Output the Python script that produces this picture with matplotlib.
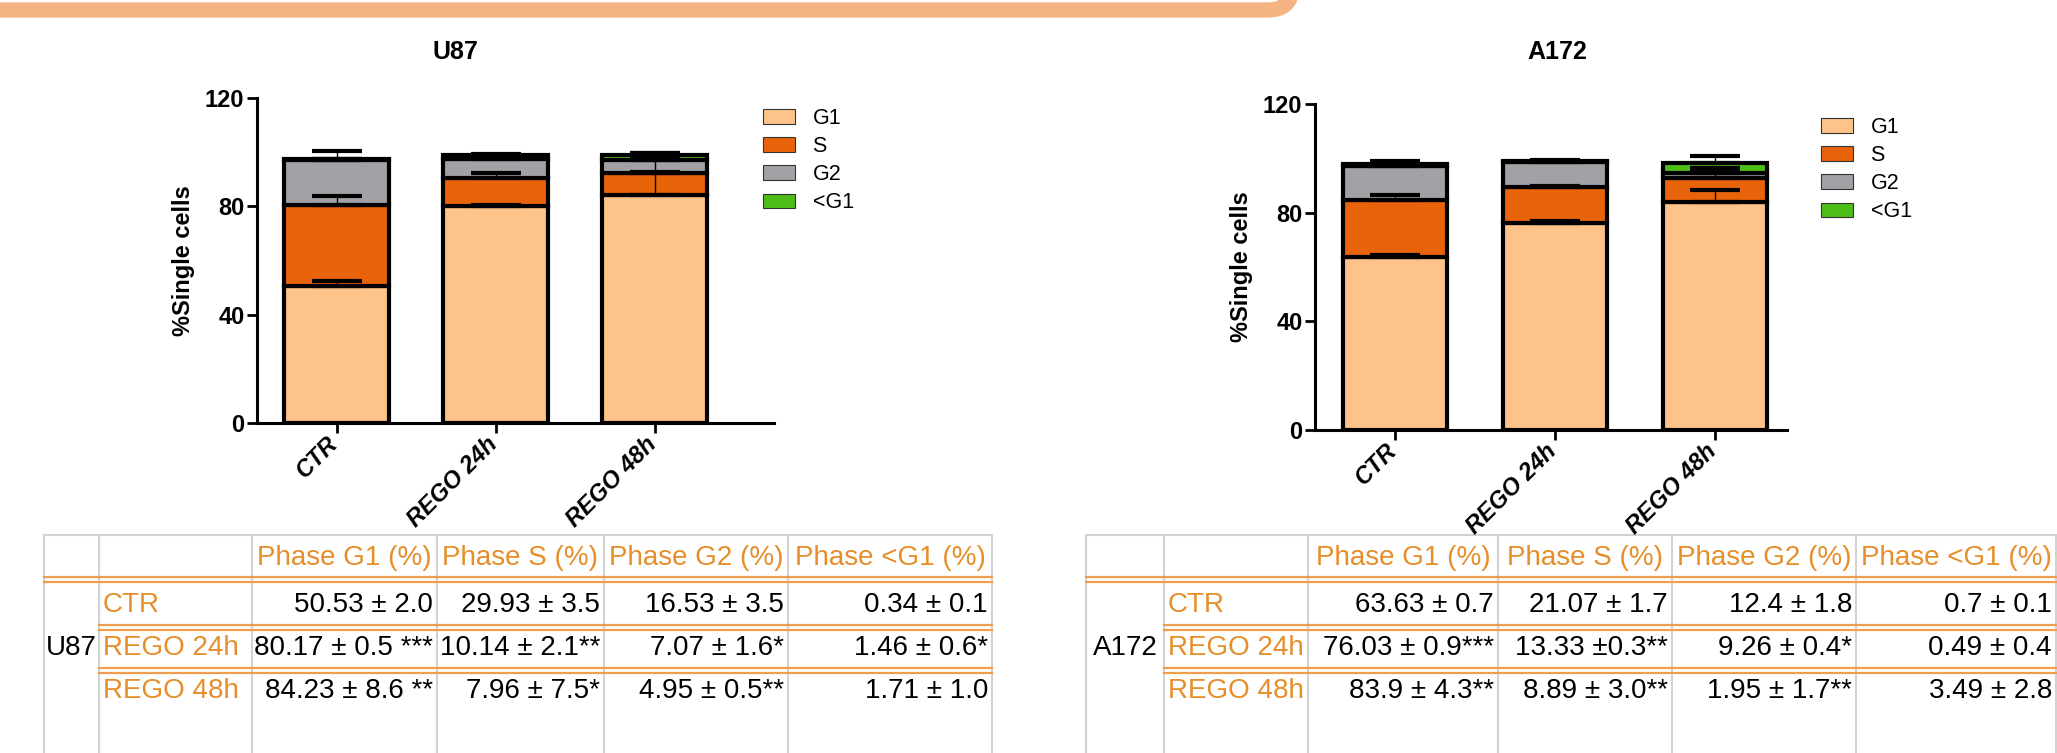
import numpy as np
import matplotlib
matplotlib.use('Agg')
import matplotlib.pyplot as plt
import matplotlib.transforms as mtransforms
from matplotlib import font_manager
from matplotlib.patches import Patch, PathPatch
from matplotlib.path import Path

W, H = 2057, 753

CONDITIONS = ['CTR', 'REGO 24h', 'REGO 48h']
PHASES = ['G1', 'S', 'G2', '<G1']
PHASE_COLORS = ['#FDC38A', '#E8630A', '#A2A2A6', '#4DBE18']

# U87 means / SD per phase (CTR, REGO 24h, REGO 48h)
U87_G1 = [50.53, 80.17, 84.23]
U87_S = [29.93, 10.14, 7.96]
U87_G2 = [16.53, 7.07, 4.95]
U87_SUB = [0.34, 1.46, 1.71]
U87_G1_SD = [2.0, 0.5, 8.6]
U87_S_SD = [3.5, 2.1, 7.5]
U87_G2_SD = [3.5, 1.6, 0.5]
U87_SUB_SD = [0.1, 0.6, 1.0]

# A172
A172_G1 = [63.63, 76.03, 83.9]
A172_S = [21.07, 13.33, 8.89]
A172_G2 = [12.4, 9.26, 1.95]
A172_SUB = [0.7, 0.49, 3.49]
A172_G1_SD = [0.7, 0.9, 4.3]
A172_S_SD = [1.7, 0.3, 3.0]
A172_G2_SD = [1.8, 0.4, 1.7]
A172_SUB_SD = [0.1, 0.4, 2.8]

TABLE_HEADER = ['Phase G1 (%)', 'Phase S (%)', 'Phase G2 (%)', 'Phase <G1 (%)']
U87_CELLS = [
    ['50.53 ± 2.0', '29.93 ± 3.5', '16.53 ± 3.5', '0.34 ± 0.1'],
    ['80.17 ± 0.5 ***', '10.14 ± 2.1**', '7.07 ± 1.6*', '1.46 ± 0.6*'],
    ['84.23 ± 8.6 **', '7.96 ± 7.5*', '4.95 ± 0.5**', '1.71 ± 1.0'],
]
A172_CELLS = [
    ['63.63 ± 0.7', '21.07 ± 1.7', '12.4 ± 1.8', '0.7 ± 0.1'],
    ['76.03 ± 0.9***', '13.33 ±0.3**', '9.26 ± 0.4*', '0.49 ± 0.4'],
    ['83.9 ± 4.3**', '8.89 ± 3.0**', '1.95 ± 1.7**', '3.49 ± 2.8'],
]

ORANGE_TXT = '#E58E2A'
ORANGE_LINE = '#EE9E4E'
GRID_GRAY = '#D2D2D2'
BAND = '#F4B383'

names = {f.name for f in font_manager.fontManager.ttflist}
SANS = 'Liberation Sans' if 'Liberation Sans' in names else 'DejaVu Sans'
plt.rcParams['font.family'] = [SANS, 'DejaVu Sans']
TAB_FS = 20


def px_rect(left, top, right, bottom):
    return [left / W, 1 - bottom / H, (right - left) / W, (bottom - top) / H]


def draw_chart(fig, rect, xmax, title, title_xy, ylabel_x, legend_xy, stacks, errs):
    ax = fig.add_axes(rect)
    x = np.arange(len(CONDITIONS))
    bottom = np.zeros(len(CONDITIONS))
    for vals, err, color in zip(stacks, errs, PHASE_COLORS):
        vals = np.asarray(vals)
        ax.bar(x, vals, 0.655, bottom=bottom, color=color, edgecolor='black',
               linewidth=3.0, zorder=2)
        top = bottom + vals
        ax.errorbar(x, top, yerr=[np.zeros_like(top), err], fmt='none',
                    ecolor='black', elinewidth=1.0, capsize=18, capthick=3.0,
                    zorder=3)
        bottom = top

    ax.set_xlim(-0.5, xmax)
    ax.set_ylim(0, 120)
    ax.set_yticks([0, 40, 80, 120])
    ax.spines[['top', 'right']].set_visible(False)
    for s in ['left', 'bottom']:
        ax.spines[s].set_linewidth(2.2)
    ax.spines['left'].set_bounds(0, 120)
    ax.tick_params(direction='out', length=7, width=2.0, labelsize=17, pad=2)
    for lab in ax.get_yticklabels():
        lab.set_fontweight('bold')
    ax.set_xticks(x)
    ax.set_xticklabels(CONDITIONS, rotation=45, ha='right', va='top',
                       rotation_mode='anchor', fontweight='bold',
                       fontstyle='italic', fontsize=17)
    ax.tick_params(axis='x', pad=2)
    shift = mtransforms.ScaledTranslation(-0.10, 0.03, fig.dpi_scale_trans)
    for lab in ax.get_xticklabels():
        lab.set_transform(lab.get_transform() + shift)

    fig.text(title_xy[0] / W, 1 - title_xy[1] / H, title, ha='center',
             va='center', fontsize=18, fontweight='bold')
    ax.set_ylabel('%Single cells', fontsize=17, fontweight='bold')
    ax.yaxis.set_label_coords((ylabel_x - rect[0] * W) / (rect[2] * W), 0.5)

    handles = [Patch(facecolor=c, edgecolor='#333333', linewidth=0.8, label=p)
               for p, c in zip(PHASES, PHASE_COLORS)]
    fig.legend(handles=handles, loc='upper left',
               bbox_to_anchor=(legend_xy[0] / W, 1 - legend_xy[1] / H),
               frameon=False, fontsize=15.5, handlelength=1.5,
               handleheight=0.65, labelspacing=0.33, handletextpad=0.8,
               borderpad=0, borderaxespad=0)
    return ax


def draw_table(ax, edges, cell_label, cells):
    top = 535
    header_y = 558
    row_y = [605, 648, 691]
    dbl = [(577, 582), (625, 630), (668, 673)]
    x0, x1 = edges[0], edges[-1]
    ax.plot([x0, x1], [top, top], color=GRID_GRAY, lw=1.5)
    for xe in edges:
        ax.plot([xe, xe], [top, H + 5], color=GRID_GRAY, lw=1.5)
    for i, (ya, yb) in enumerate(dbl):
        start = x0 if i == 0 else edges[1]
        for yy in (ya, yb):
            ax.plot([start, x1], [yy, yy], color=ORANGE_LINE, lw=1.6)
    for j, head in enumerate(TABLE_HEADER):
        ax.text((edges[j + 2] + edges[j + 3]) / 2, header_y, head, ha='center',
                va='center', color=ORANGE_TXT, fontsize=TAB_FS)
    for i, cond in enumerate(CONDITIONS):
        ax.text(edges[1] + 4, row_y[i], cond, ha='left', va='center',
                color=ORANGE_TXT, fontsize=TAB_FS)
        for j, val in enumerate(cells[i]):
            ax.text(edges[j + 3] - 4, row_y[i], val, ha='right', va='center',
                    color='black', fontsize=TAB_FS)
    ax.text((edges[0] + edges[1]) / 2, row_y[1], cell_label, ha='center',
            va='center', color='black', fontsize=TAB_FS)


fig = plt.figure(figsize=(W / 100, H / 100), dpi=100)

bg = fig.add_axes([0, 0, 1, 1], zorder=-1)
bg.set_xlim(0, W)
bg.set_ylim(H, 0)
bg.axis('off')

# orange header band with a rounded corner turning up at the right end
verts = [(0, 10), (1268, 10), (1290, 10), (1292, -10)]
codes = [Path.MOVETO, Path.LINETO, Path.CURVE3, Path.CURVE3]
bg.add_patch(PathPatch(Path(verts, codes), facecolor='none', edgecolor=BAND,
                       lw=11, capstyle='butt'))

draw_chart(fig, px_rect(257, 98, 257 + 3.25 * 159, 423), 2.75, 'U87', (455, 52),
           195, (763, 108),
           [U87_G1, U87_S, U87_G2, U87_SUB],
           [U87_G1_SD, U87_S_SD, U87_G2_SD, U87_SUB_SD])
draw_chart(fig, px_rect(1315, 104, 1315 + 2.95 * 160, 430), 2.45, 'A172',
           (1557, 52), 1253, (1821, 117),
           [A172_G1, A172_S, A172_G2, A172_SUB],
           [A172_G1_SD, A172_S_SD, A172_G2_SD, A172_SUB_SD])

draw_table(bg, [44, 99, 252, 437, 604, 788, 992], 'U87', U87_CELLS)
draw_table(bg, [1086, 1164, 1308, 1498, 1672, 1856, 2056], 'A172', A172_CELLS)

fig.savefig('out.png', dpi=100)
